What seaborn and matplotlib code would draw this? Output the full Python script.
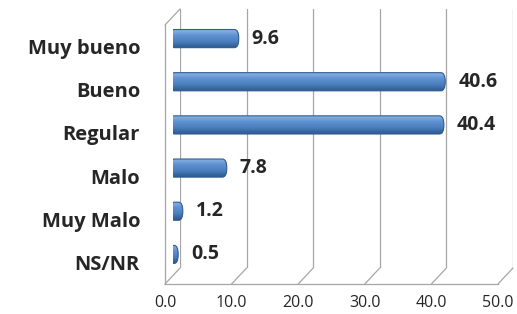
import matplotlib
matplotlib.use("Agg")
import matplotlib.pyplot as plt
import seaborn as sns
import numpy as np
import pandas as pd
from matplotlib.lines import Line2D
from matplotlib.patches import FancyBboxPatch
from matplotlib.colors import LinearSegmentedColormap

categories = ["Muy bueno", "Bueno", "Regular", "Malo", "Muy Malo", "NS/NR"]
values = [9.6, 40.6, 40.4, 7.8, 1.2, 0.5]
xticks = [0, 10, 20, 30, 40, 50]

W, H = 517, 314
sns.set_style("white")
plt.rcParams["font.family"] = ["Open Sans", "DejaVu Sans"]

fig = plt.figure(figsize=(W / 100, H / 100), dpi=100)


def px_axes(x0, y0, x1, y1):
    # pixel box (top-left origin) -> figure axes
    return fig.add_axes([x0 / W, 1 - y1 / H, (x1 - x0) / W, (y1 - y0) / H])


grid_c = "#a6a6a6"
dx, dy = 15, 16  # depth offset of the back wall

# back wall with gridlines
back = px_axes(165 + dx, 25 - dy, 498 + dx, 284 - dy)
back.set_xlim(0, 50)
back.set_ylim(0, 1)
for v in xticks:
    back.axvline(v, color=grid_c, lw=0.9)
back.axis("off")

# bars, half way in depth
df = pd.DataFrame({"cat": categories, "val": values})
mid = px_axes(165 + dx / 2, 25 - dy / 2, 498 + dx / 2, 284 - dy / 2)
sns.barplot(data=df, x="val", y="cat", ax=mid, color="#4a7ebb", saturation=1,
            width=0.42, edgecolor="#2f5b8f", linewidth=0.8)
mid.set_xlim(0, 50)
mid.set_ylim(5.5, -0.5)
mid.axis("off")

# cylinder look: rounded ends + vertical shading
cyl = LinearSegmentedColormap.from_list(
    "cyl", ["#93b8e6", "#5e92d2", "#4a7ebb", "#2c5890"])
grad = np.linspace(0, 1, 64).reshape(-1, 1)
cap = 0.35  # extra length of each end cap
for p in list(mid.patches):
    x0, y0, w, h = p.get_x(), p.get_y(), p.get_width(), p.get_height()
    x0, w = x0 - cap, w + 2 * cap
    rx = min(0.65, w / 2)
    fb = FancyBboxPatch((x0, y0), w, h,
                        boxstyle=f"round,pad=0,rounding_size={rx}",
                        mutation_aspect=(abs(h) / 2) / rx,
                        facecolor="none", edgecolor="#2f5b8f", lw=0.8, zorder=4)
    mid.add_patch(fb)
    im = mid.imshow(grad, cmap=cyl, aspect="auto", zorder=3,
                    extent=(x0, x0 + w, y0 + h, y0), interpolation="bilinear")
    im.set_clip_path(fb)
    p.set_visible(False)
mid.set_xlim(0, 50)
mid.set_ylim(5.5, -0.5)

for i, v in enumerate(values):
    mid.text(v + 2.3, i, f"{v:.1f}", va="center", ha="left",
             fontsize=14, fontweight="bold")

# front axes: ticks and labels
front = px_axes(165, 25, 498, 284)
front.patch.set_alpha(0)
front.set_xlim(0, 50)
front.set_ylim(5.5, -0.5)
front.set_xticks(xticks)
front.set_xticklabels([f"{v:.1f}" for v in xticks], fontsize=11.5)
front.set_yticks([i - 0.5 for i in range(len(categories) + 1)])
front.set_yticklabels([])
front.set_yticks(range(len(categories)), minor=True)
front.set_yticklabels(categories, minor=True, fontsize=14.5, fontweight="bold")
front.tick_params(axis="y", which="minor", length=0, pad=18)
front.tick_params(axis="x", which="major", pad=3)
front.tick_params(axis="both", which="major", length=5, width=0.9,
                  color=grid_c, direction="out")
for s in ["top", "right"]:
    front.spines[s].set_visible(False)
for s in ["left", "bottom"]:
    front.spines[s].set_color(grid_c)
    front.spines[s].set_linewidth(0.9)

# floor diagonals and top-left corner
fig.canvas.draw()
inv = fig.transFigure.inverted()
pairs = [((v, 5.5), (v, 0)) for v in xticks] + [((0, -0.5), (0, 1))]
for (fa, ba) in pairs:
    p0 = inv.transform(front.transData.transform(fa))
    p1 = inv.transform(back.transData.transform(ba))
    fig.add_artist(Line2D([p0[0], p1[0]], [p0[1], p1[1]], color=grid_c, lw=0.9))

fig.savefig("out.png", dpi=100)
